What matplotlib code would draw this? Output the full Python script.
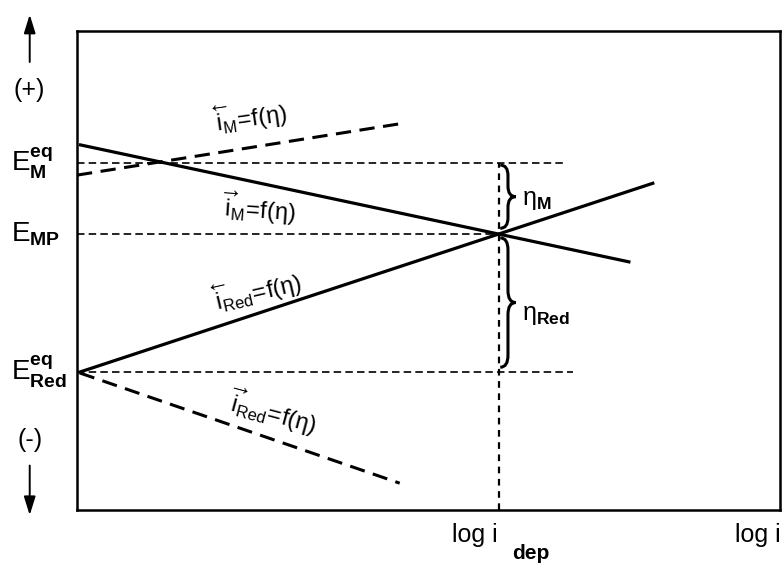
import numpy as np
import matplotlib
matplotlib.use("Agg")
import matplotlib.pyplot as plt
from matplotlib.path import Path
from matplotlib.patches import PathPatch, FancyArrowPatch

plt.rcParams['font.family'] = ['Liberation Sans', 'DejaVu Sans']
plt.rcParams['mathtext.fontset'] = 'custom'
plt.rcParams['mathtext.rm'] = 'Liberation Sans'
plt.rcParams['mathtext.it'] = 'Liberation Sans:italic'
plt.rcParams['mathtext.bf'] = 'Liberation Sans:bold'

# potentials (arbitrary units) and log i positions
E_M_eq = 7.24
E_MP = 5.76
E_Red_eq = 2.88
log_i_dep = 6.0
log_i_end = 9.69

# Tafel lines: (x endpoints, y endpoints)
iM_anodic_x = [0.05, 7.85]
iM_anodic_y = [7.62, 5.18]
iRed_cath_x = [0.04, 8.19]
iRed_cath_y = [2.88, 6.82]
iM_back_x = [0.0, 4.67]
iM_back_y = [6.99, 8.08]
iRed_back_x = [0.04, 4.59]
iRed_back_y = [2.86, 0.56]

# extents of the guide lines
x_guide_M = 6.91
x_guide_Red = 7.06

ytick_pos = [E_Red_eq, E_MP, E_M_eq]
ytick_labels = [r'$\mathrm{E}_{\mathbf{Red}}^{\mathbf{eq}}$',
                r'$\mathrm{E}_{\mathbf{MP}}$',
                r'$\mathrm{E}_{\mathbf{M}}^{\mathbf{eq}}$']


def brace(ax, x, y_top, y_bot, w, lw=2.2):
    ym = (y_top + y_bot) / 2
    r = min(0.25, (y_top - y_bot) / 6)
    xm = x + w * 0.5
    verts = [(x, y_top), (xm, y_top), (xm, y_top - r),
             (xm, ym + r), (xm, ym), (x + w, ym),
             (xm, ym), (xm, ym - r),
             (xm, y_bot + r), (xm, y_bot), (x, y_bot)]
    codes = [Path.MOVETO, Path.CURVE3, Path.CURVE3,
             Path.LINETO, Path.CURVE3, Path.CURVE3,
             Path.CURVE3, Path.CURVE3,
             Path.LINETO, Path.CURVE3, Path.CURVE3]
    ax.add_patch(PathPatch(Path(verts, codes), fill=False, lw=lw, color='black'))


fig = plt.figure(figsize=(7.82, 5.63), dpi=100)
ax = fig.add_axes([0.0985, 0.0941, 0.899, 0.851])
ax.set_xlim(0, 10)
ax.set_ylim(0, 10)

guide = dict(color='black', lw=1.2, dashes=(4.5, 2.5))
ax.plot([0, x_guide_M], [E_M_eq, E_M_eq], **guide)
ax.plot([0, log_i_dep], [E_MP, E_MP], **guide)
ax.plot([0, x_guide_Red], [E_Red_eq, E_Red_eq], **guide)
ax.plot([log_i_dep, log_i_dep], [0, E_M_eq], color='black', lw=1.6, dashes=(3, 2.5))

ax.plot(iM_anodic_x, iM_anodic_y, color='black', lw=2.3)
ax.plot(iRed_cath_x, iRed_cath_y, color='black', lw=2.3)
ax.plot(iM_back_x, iM_back_y, color='black', lw=2.2, dashes=(5, 2.8))
ax.plot(iRed_back_x, iRed_back_y, color='black', lw=2.2, dashes=(5, 2.8))

brace(ax, log_i_dep + 0.02, E_M_eq - 0.04, E_MP + 0.12, 0.22)
brace(ax, log_i_dep + 0.02, E_MP - 0.08, E_Red_eq + 0.1, 0.22)

ax.text(6.33, 6.47, r'$\mathrm{η}_{\mathbf{M}}$', fontsize=18, ha='left', va='center')
ax.text(6.33, 4.07, r'$\mathrm{η}_{\mathbf{Red}}$', fontsize=18, ha='left', va='center')

lab = dict(fontsize=17, ha='center', va='center', rotation_mode='anchor')
ax.text(2.45, 8.22, r'$\overleftarrow{\mathrm{i}}_{\mathrm{M}}\!\mathrm{=}\!\mathrm{f(η)}$',
        rotation=8, **lab)
ax.text(2.58, 6.3, r'$\overrightarrow{\mathrm{i}}_{\mathrm{M}}\!\mathrm{=}\!\mathrm{f(η)}$',
        rotation=-4, style='italic', **lab)
ax.text(2.55, 4.58, r'$\overleftarrow{\mathrm{i}}_{\mathrm{Red}}\!\mathrm{=}\!\mathrm{f(η)}$',
        rotation=13, **lab)
ax.text(2.78, 2.05, r'$\overrightarrow{\mathrm{i}}_{\mathrm{Red}}\!\mathrm{=}\!\mathrm{f(η)}$',
        rotation=-15, **lab)

# potential labels on the left, left-aligned like the original
ax.set_xticks([])
ax.set_yticks([])
yl = ax.get_yaxis_transform()
for yv, txt in zip(ytick_pos, ytick_labels):
    ax.text(-0.094, yv, txt, fontsize=20, ha='left', va='center', transform=yl)

xl = ax.get_xaxis_transform()
ax.text(5.66, -0.052, 'log i', fontsize=18, ha='center', va='center', transform=xl)
ax.text(6.46, -0.090, 'dep', fontsize=15, fontweight='bold', ha='center', va='center',
        transform=xl)
ax.text(log_i_end, -0.052, 'log i', fontsize=18, ha='center', va='center', transform=xl)

for s in ax.spines.values():
    s.set_linewidth(1.8)

# sign arrows outside the axes
fig.text(0.037, 0.840, '(+)', fontsize=18, ha='center', va='center')
fig.text(0.038, 0.218, '(-)', fontsize=18, ha='center', va='center')
arw = dict(arrowstyle='-|>,head_length=0.8,head_width=0.25', lw=1.4, color='black',
           mutation_scale=14)
fig.add_artist(FancyArrowPatch((0.038, 0.885), (0.038, 0.979),
                               transform=fig.transFigure, **arw))
fig.add_artist(FancyArrowPatch((0.038, 0.178), (0.038, 0.080),
                               transform=fig.transFigure, **arw))

fig.savefig('out.png', dpi=100)
